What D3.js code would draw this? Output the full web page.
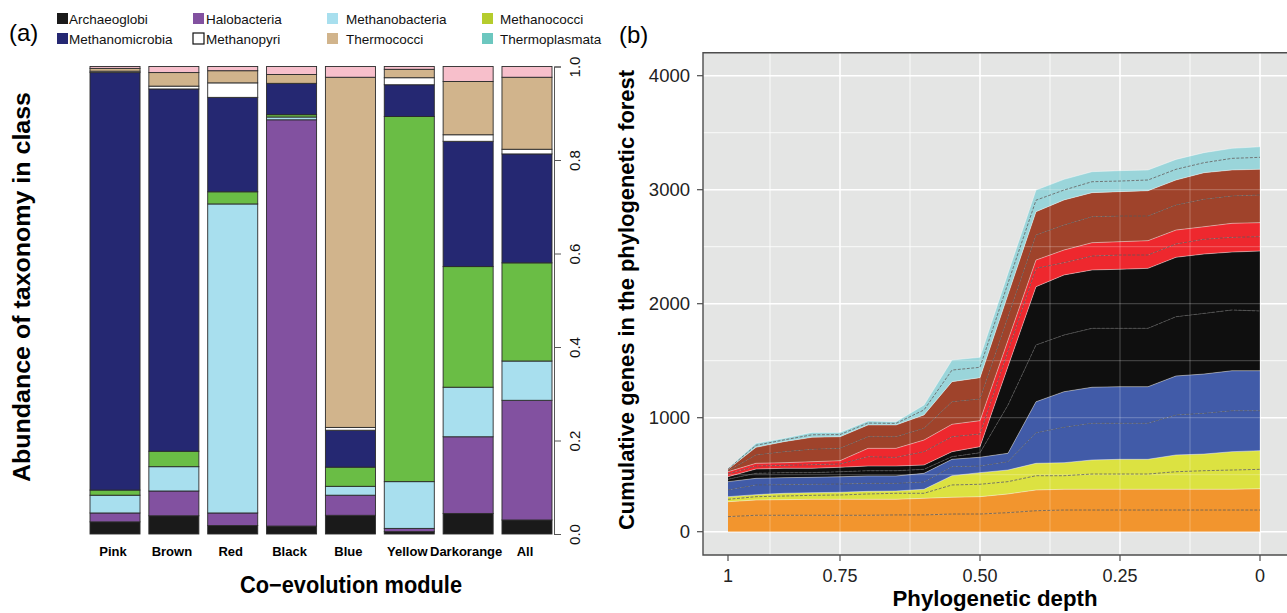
<!DOCTYPE html>
<html>
<head>
<meta charset="utf-8">
<script src="https://cdn.jsdelivr.net/npm/d3@7"></script>
<style>
body { margin: 0; background: #fff; }
text { font-family: "Liberation Sans", Arial, sans-serif; }
</style>
</head>
<body>
<script>
// ---- panel (a): class abundance per co-evolution module ----
var modules = ["Pink", "Brown", "Red", "Black", "Blue", "Yellow", "Darkorange", "All"];
var classes = ["Archaeoglobi", "Halobacteria", "Methanobacteria", "Methanococci",
               "Methanomicrobia", "Methanopyri", "Thermococci", "Thermoplasmata"];

var archaeoglobi    = [0.026, 0.039, 0.018, 0.017, 0.040, 0.005, 0.044, 0.030];
var halobacteria    = [0.019, 0.053, 0.027, 0.869, 0.043, 0.007, 0.164, 0.256];
var methanobacteria = [0.038, 0.052, 0.661, 0.006, 0.019, 0.100, 0.106, 0.084];
var methanococci    = [0.011, 0.033, 0.026, 0.005, 0.041, 0.781, 0.258, 0.210];
var methanomicrobia = [0.893, 0.775, 0.202, 0.067, 0.079, 0.068, 0.268, 0.233];
var methanopyri     = [0.003, 0.006, 0.031, 0.000, 0.006, 0.015, 0.014, 0.010];
var thermococci     = [0.006, 0.029, 0.026, 0.019, 0.749, 0.018, 0.114, 0.154];
var thermoplasmata  = [0.004, 0.013, 0.009, 0.017, 0.023, 0.006, 0.032, 0.023];

var abundanceTicks = [0, 0.2, 0.4, 0.6, 0.8, 1.0];

// ---- panel (b): cumulative genes vs phylogenetic depth ----
var depth = [0.95, 0.90, 0.85, 0.80, 0.75, 0.70, 0.65, 0.60, 0.55, 0.50,
             0.45, 0.40, 0.35, 0.30, 0.25, 0.20, 0.15, 0.10, 0.05, 0.00];

var orangeA = [132, 144, 144, 144, 144, 144, 147, 147, 155, 155, 167, 184, 190, 190, 190, 190, 190, 190, 190, 190];
var orangeB = [131, 134, 137, 140, 140, 140, 137, 146, 147, 152, 164, 182, 182, 182, 182, 182, 182, 182, 182, 187];
var yellowA = [21, 29, 32, 35, 38, 47, 53, 44, 108, 109, 108, 125, 119, 134, 134, 134, 154, 163, 169, 170];
var yellowB = [23, 18, 24, 23, 24, 23, 20, 35, 81, 102, 102, 109, 114, 123, 129, 129, 147, 146, 161, 164];
var blueA   = [59, 85, 75, 74, 72, 70, 67, 64, 79, 58, 73, 268, 311, 322, 316, 316, 351, 357, 359, 350];
var blueB   = [73, 58, 62, 61, 64, 65, 65, 76, 65, 77, 74, 272, 312, 316, 321, 321, 342, 345, 351, 351];
var blackA  = [21, 44, 44, 41, 44, 46, 46, 35, 23, 40, 423, 498, 497, 517, 512, 512, 520, 532, 533, 524];
var blackB  = [22, 38, 38, 38, 39, 41, 41, 38, 44, 53, 339, 511, 527, 512, 518, 526, 521, 521, 508, 526];
var redA    = [24, 26, 26, 32, 29, 82, 76, 117, 131, 111, 135, 161, 108, 122, 125, 117, 117, 129, 129, 126];
var redB    = [20, 24, 23, 26, 29, 73, 79, 102, 109, 117, 95, 73, 111, 117, 117, 126, 122, 110, 123, 123];
var brownA  = [9, 73, 97, 109, 108, 102, 102, 103, 198, 190, 205, 220, 219, 228, 225, 216, 220, 241, 240, 243];
var brownB  = [12, 67, 88, 105, 102, 103, 103, 117, 176, 187, 195, 204, 220, 211, 214, 222, 219, 233, 228, 225];
var cyanA   = [4, 18, 15, 22, 19, 17, 14, 44, 102, 91, 100, 101, 87, 96, 93, 94, 94, 88, 102, 105];
var cyanB   = [5, 17, 14, 21, 19, 18, 15, 43, 88, 88, 88, 89, 94, 88, 91, 88, 87, 88, 88, 93];

var depthTicks = [0.95, 0.75, 0.50, 0.25, 0];
var depthTickLabels = ["1", "0.75", "0.50", "0.25", "0"];
var geneTicks = [0, 1000, 2000, 3000, 4000];

var width = 1287;
var height = 613;

var svg = d3.select("body")
            .append("svg")
            .attr("width", width)
            .attr("height", height);

drawPanelA();
drawPanelB();

function drawPanelA() {
    var barColors = ["#1a1a1a", "#8251a0", "#a8dfee", "#6abd45",
                     "#252872", "#ffffff", "#d1b48c", "#f7bfcb"];
    var legendColors = ["#1a1a1a", "#8251a0", "#a8dfee", "#b5cc2d",
                        "#252872", "#ffffff", "#d1b48c", "#6cc7bf"];
    var series = [archaeoglobi, halobacteria, methanobacteria, methanococci,
                  methanomicrobia, methanopyri, thermococci, thermoplasmata];

    // table for the stack
    var rows = modules.map(function(m, i) {
        var row = {module: m};
        classes.forEach(function(c, j) { row[c] = series[j][i]; });
        return row;
    });
    var stacked = d3.stack().keys(classes)(rows);

    var x = d3.scaleBand().domain(modules).range([90, 552]).paddingInner(0.15).paddingOuter(0);
    var y = d3.scaleLinear().domain([0, 1]).range([534, 66.5]);

    var g = svg.append("g").classed("panel-a", true);

    g.selectAll("g.layer")
        .data(stacked)
        .enter()
        .append("g")
        .classed("layer", true)
        .attr("fill", function(d, i) { return barColors[i]; })
        .selectAll("rect")
        .data(function(d) { return d; })
        .enter()
        .append("rect")
        .attr("x", function(d) { return x(d.data.module); })
        .attr("width", x.bandwidth())
        .attr("y", function(d) { return y(d[1]); })
        .attr("height", function(d) { return Math.max(0, y(d[0]) - y(d[1])); })
        .attr("stroke", "#2b2b2b")
        .attr("stroke-width", 0.9);

    // module names under the bars
    g.selectAll("text.module")
        .data(modules)
        .enter()
        .append("text")
        .classed("module", true)
        .attr("x", function(d) { return x(d) + x.bandwidth() / 2 - 2; })
        .attr("y", 556)
        .attr("text-anchor", "middle")
        .style("font-size", "13px")
        .style("font-weight", "bold")
        .text(function(d) { return d; });

    // right axis, labels parallel to the axis
    var axis = g.append("g")
        .attr("transform", "translate(554,0)")
        .call(d3.axisRight(y).tickValues(abundanceTicks).tickSize(7).tickFormat(d3.format(".1f")));
    axis.select(".domain").attr("stroke", "#555");
    axis.selectAll(".tick line").attr("stroke", "#555");
    axis.selectAll(".tick text")
        .attr("x", 0)
        .attr("dy", 0)
        .attr("transform", "translate(26,0) rotate(-90)")
        .attr("text-anchor", "middle")
        .attr("fill", "#111")
        .style("font-size", "15px")
        .style("font-family", "'Liberation Sans', Arial, sans-serif");

    // titles
    g.append("text")
        .attr("transform", "translate(30,287) rotate(-90)")
        .attr("text-anchor", "middle")
        .attr("textLength", 390)
        .attr("lengthAdjust", "spacingAndGlyphs")
        .style("font-size", "23px")
        .style("font-weight", "bold")
        .text("Abundance of taxonomy in class");

    g.append("text")
        .attr("x", 351)
        .attr("y", 593)
        .attr("text-anchor", "middle")
        .attr("textLength", 222)
        .attr("lengthAdjust", "spacingAndGlyphs")
        .style("font-size", "23px")
        .style("font-weight", "bold")
        .text("Co\u2212evolution module");

    g.append("text")
        .attr("x", 9)
        .attr("y", 41)
        .style("font-size", "24px")
        .text("(a)");

    // legend, two rows of four
    var legendX = [57, 193, 327, 482];
    var legendTextX = [69, 206, 346, 500];
    var legend = g.selectAll("g.legend")
        .data(classes)
        .enter()
        .append("g")
        .classed("legend", true)
        .attr("transform", function(d, i) {
            return "translate(0," + (13 + Math.floor(i / 4) * 20) + ")";
        });
    legend.append("rect")
        .attr("x", function(d, i) { return legendX[i % 4]; })
        .attr("width", 11)
        .attr("height", 11)
        .attr("fill", function(d, i) { return legendColors[i]; })
        .attr("stroke", function(d, i) { return i == 5 ? "#111" : "none"; })
        .attr("stroke-width", 1.2);
    legend.append("text")
        .attr("x", function(d, i) { return legendTextX[i % 4]; })
        .attr("y", 10.5)
        .style("font-size", "13.5px")
        .attr("fill", "#111")
        .text(function(d) { return d; });
}

function drawPanelB() {
    var keys = ["orangeA", "orangeB", "yellowA", "yellowB", "blueA", "blueB", "blackA", "blackB",
                "redA", "redB", "brownA", "brownB", "cyanA", "cyanB"];
    var layers = [orangeA, orangeB, yellowA, yellowB, blueA, blueB, blackA, blackB,
                  redA, redB, brownA, brownB, cyanA, cyanB];
    var bandColors = ["#f39226", "#dce23a", "#3a55a5", "#060606", "#ee2027", "#9c3c23", "#97d4da"];

    var rows = depth.map(function(dp, i) {
        var row = {depth: dp};
        keys.forEach(function(k, j) { row[k] = layers[j][i]; });
        return row;
    });
    var stacked = d3.stack().keys(keys)(rows);

    var left = 703, top = 52.7, bottom = 555, right = 1295;
    var x = d3.scaleLinear().domain([0.95, 0]).range([728, 1260]);
    var y = d3.scaleLinear().domain([0, 4000]).range([531.7, 75.7]);

    var g = svg.append("g").classed("panel-b", true);

    g.append("rect")
        .attr("x", left).attr("y", top)
        .attr("width", right - left).attr("height", bottom - top)
        .attr("fill", "#e4e5e4");

    // grid
    var minorY = d3.range(500, 4000, 1000);
    var minorX = [0.875, 0.625, 0.375, 0.125];
    g.selectAll("line.minor-y").data(minorY).enter().append("line")
        .attr("x1", left).attr("x2", right)
        .attr("y1", function(d) { return y(d); }).attr("y2", function(d) { return y(d); })
        .attr("stroke", "#fff").attr("stroke-width", 0.7);
    g.selectAll("line.minor-x").data(minorX).enter().append("line")
        .attr("y1", top).attr("y2", bottom)
        .attr("x1", function(d) { return x(d); }).attr("x2", function(d) { return x(d); })
        .attr("stroke", "#fff").attr("stroke-width", 0.7);
    g.selectAll("line.major-y").data(geneTicks).enter().append("line")
        .attr("x1", left).attr("x2", right)
        .attr("y1", function(d) { return y(d); }).attr("y2", function(d) { return y(d); })
        .attr("stroke", "#fff").attr("stroke-width", 1.5);
    g.selectAll("line.major-x").data(depthTicks.slice(1)).enter().append("line")
        .attr("y1", top).attr("y2", bottom)
        .attr("x1", function(d) { return x(d); }).attr("x2", function(d) { return x(d); })
        .attr("stroke", "#fff").attr("stroke-width", 1.5);

    // stacked areas
    var area = d3.area()
        .x(function(d) { return x(d.data.depth); })
        .y0(function(d) { return y(d[0]); })
        .y1(function(d) { return y(d[1]); });
    var topLine = d3.line()
        .x(function(d) { return x(d.data.depth); })
        .y(function(d) { return y(d[1]); });

    g.selectAll("path.layer")
        .data(stacked)
        .enter()
        .append("path")
        .classed("layer", true)
        .attr("d", area)
        .attr("fill", function(d, i) { return bandColors[Math.floor(i / 2)]; })
        .attr("fill-opacity", 0.96);

    // grid shows faintly through the areas
    g.selectAll("line.over-y").data(geneTicks.concat(minorY)).enter().append("line")
        .attr("x1", left).attr("x2", right)
        .attr("y1", function(d) { return y(d); }).attr("y2", function(d) { return y(d); })
        .attr("stroke", "#fff").attr("stroke-opacity", 0.25).attr("stroke-width", 1);
    g.selectAll("line.over-x").data(depthTicks.slice(1).concat(minorX)).enter().append("line")
        .attr("y1", top).attr("y2", bottom)
        .attr("x1", function(d) { return x(d); }).attr("x2", function(d) { return x(d); })
        .attr("stroke", "#fff").attr("stroke-opacity", 0.25).attr("stroke-width", 1);

    // layer edges: dashed inside a colour band, pale between bands
    g.selectAll("path.edge")
        .data(stacked)
        .enter()
        .append("path")
        .classed("edge", true)
        .attr("d", topLine)
        .attr("fill", "none")
        .attr("stroke", function(d, i) { return i % 2 == 0 ? "rgba(90,90,90,0.85)" : "rgba(255,255,255,0.45)"; })
        .attr("stroke-width", 0.9)
        .attr("stroke-dasharray", function(d, i) { return i % 2 == 0 ? "3,1.5" : null; });

    // panel border (left, top, bottom)
    g.append("path")
        .attr("d", "M" + right + "," + top + "H" + left + "V" + bottom + "H" + right)
        .attr("fill", "none")
        .attr("stroke", "#4d4d4d")
        .attr("stroke-width", 1.4);

    // y ticks
    g.selectAll("line.ytick").data(geneTicks).enter().append("line")
        .attr("x1", left - 6).attr("x2", left)
        .attr("y1", function(d) { return y(d); }).attr("y2", function(d) { return y(d); })
        .attr("stroke", "#4d4d4d").attr("stroke-width", 1.2);
    g.selectAll("text.ytick").data(geneTicks).enter().append("text")
        .attr("x", 690)
        .attr("y", function(d) { return y(d) + 6.5; })
        .attr("text-anchor", "end")
        .attr("fill", "#222")
        .style("font-size", "18.5px")
        .text(function(d) { return d; });

    // x ticks
    g.selectAll("line.xtick").data(depthTicks).enter().append("line")
        .attr("y1", bottom).attr("y2", bottom + 6)
        .attr("x1", function(d) { return x(d); }).attr("x2", function(d) { return x(d); })
        .attr("stroke", "#4d4d4d").attr("stroke-width", 1.2);
    g.selectAll("text.xtick").data(depthTicks).enter().append("text")
        .attr("x", function(d) { return x(d); })
        .attr("y", 582)
        .attr("text-anchor", "middle")
        .attr("fill", "#222")
        .style("font-size", "18px")
        .text(function(d, i) { return depthTickLabels[i]; });

    // titles
    g.append("text")
        .attr("x", 995)
        .attr("y", 606)
        .attr("text-anchor", "middle")
        .attr("textLength", 205)
        .attr("lengthAdjust", "spacingAndGlyphs")
        .style("font-size", "22px")
        .style("font-weight", "bold")
        .text("Phylogenetic depth");

    g.append("text")
        .attr("transform", "translate(634,300) rotate(-90)")
        .attr("text-anchor", "middle")
        .attr("textLength", 460)
        .attr("lengthAdjust", "spacingAndGlyphs")
        .style("font-size", "22px")
        .style("font-weight", "bold")
        .text("Cumulative genes in the phylogenetic forest");

    g.append("text")
        .attr("x", 619)
        .attr("y", 43)
        .style("font-size", "24px")
        .text("(b)");
}
</script>
</body>
</html>
